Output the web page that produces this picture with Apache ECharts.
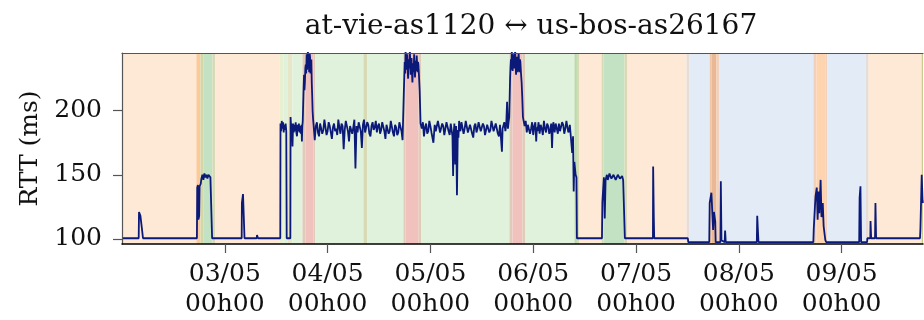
<!DOCTYPE html>
<html><head><meta charset="utf-8">
<script src="https://cdn.jsdelivr.net/npm/echarts@6/dist/echarts.min.js"></script>
<style>html,body{margin:0;padding:0;background:#fff}#c{width:924px;height:320px}</style>
</head><body><div id="c"></div>
<script>
// ---------------- DATA ----------------
const chartTitle = 'at-vie-as1120 \u2194 us-bos-as26167';
const yAxisName = 'RTT (ms)';
const yTickValues = [100, 150, 200];
// x in hours since 02/05 00h00
const xTickHours = [24, 48, 72, 96, 120, 144, 168];
const xTickLabels = ['03/05\n00h00', '04/05\n00h00', '05/05\n00h00', '06/05\n00h00', '07/05\n00h00', '08/05\n00h00', '09/05\n00h00'];

// [hour, RTT ms]
const rttPoints = [
  [0,100.5],[3.9,100.5],[3.97,121],[4.3,118],[4.58,117],[4.65,108],[4.83,107],[4.9,100.5],[6.98,100.5],[7.05,102],[7.15,100.5],
  [17.49,100.5],[17.56,140],[17.72,142],[17.84,115],[18.02,118],[18.12,141],[18.38,143],[18.54,147],[18.77,150],[19.0,146],[19.24,151],[19.47,148],[19.71,150],[19.94,147],[20.17,150],[20.41,149],[20.64,148],[20.87,147],[21.04,100.5],
  [27.94,100.5],[27.99,128],[28.2,128],[28.25,135],[28.53,134],[28.6,100.5],
  [30.63,100.5],[30.68,101.5],[30.8,100.5],[31.45,100.5],[31.52,103],[31.68,103],[31.75,100.5],
  [36.95,100.5],[37.0,190],[37.15,184],[37.3,192],[37.45,186],[37.6,191],[37.75,183],[37.9,189],[38.05,185],[38.2,190],[38.35,184],[38.45,100.5],
  [39.3,100.5],[39.35,195],[39.5,186],[39.65,190],[39.8,172],[39.95,190],[40.1,183],[40.25,189],[40.4,184],[40.55,191],[40.7,183],[40.85,180],[41.0,189],[41.15,184],[41.3,190],[41.45,183],[41.6,188],[41.75,182],[41.9,189],[42.0,176],[42.1,188],[42.2,192],
  [42.3,205],[42.4,218],[42.5,228],[42.6,216],[42.7,222],[42.8,233],[42.9,236],[43.0,229],[43.1,244],[43.2,232],[43.3,238],[43.4,247],[43.5,247],[43.6,236],[43.7,230],[43.8,245],[43.9,242],[44.0,229],[44.1,236],[44.2,240],[44.3,222],[44.4,212],[44.5,200],[44.6,194],[44.7,190],
  [45.0,177],[45.25,188],[45.5,191],[45.75,183],[46.0,180],[46.25,190],[46.5,189],[46.75,182],[47.0,185],[47.25,193],[47.5,192],[47.75,181],[48.0,184],[48.25,191],[48.5,188],[48.75,183],[49.0,178],[49.25,187],[49.5,190],[49.75,184],[50.0,186],[50.25,181],[50.5,193],[50.75,187],[51.0,182],[51.25,190],[51.5,188],[51.75,170],[52.0,185],[52.25,192],[52.5,191],[52.75,184],[53.0,176],[53.25,188],[53.5,189],[53.75,182],[54.0,187],[54.25,193],[54.5,155],[54.75,188],[55.0,183],[55.25,191],[55.5,190],[55.75,184],[56.0,171],[56.25,189],[56.5,193],[56.75,183],[57.0,184],[57.25,191],[57.5,189],[57.75,182],[58.0,180],[58.25,188],[58.5,191],[58.75,185],[59.0,187],[59.25,192],[59.5,183],[59.75,188],[60.0,190],[60.25,182],[60.5,185],[60.75,191],[61.0,192],[61.25,184],[61.5,178],[61.75,189],[62.0,188],[62.25,182],[62.5,184],[62.75,192],[63.0,191],[63.25,183],[63.5,180],[63.75,189],[64.0,187],[64.25,181],[64.5,183],[64.75,191],[65.0,190],[65.25,184],[65.5,177],
  [65.8,215],[66.0,238],[66.1,229],[66.2,247],[66.3,240],[66.4,232],[66.5,238],[66.6,244],[66.7,230],[66.8,225],[66.9,236],[67.0,240],[67.1,233],[67.2,247],[67.3,239],[67.4,228],[67.5,235],[67.6,241],[67.7,229],[67.8,222],[67.9,231],[68.0,237],[68.1,230],[68.2,244],[68.3,236],[68.4,226],[68.5,233],[68.6,239],[68.7,231],[68.8,243],[68.9,236],[69.0,230],[69.1,238],[69.2,236],[69.35,226],[69.5,215],[69.7,190],
  [70.0,186],[70.25,191],[70.5,180],[70.75,187],[71.0,190],[71.25,182],[71.5,184],[71.75,192],[72.0,188],[72.25,183],[72.5,182],[72.7,175],[73.0,189],[73.25,184],[73.5,185],[73.75,192],[74.0,191],[74.25,183],[74.5,183],[74.75,190],[75.0,188],[75.25,181],[75.5,186],[75.75,191],[76.0,192],[76.25,184],[76.5,181],[76.75,190],[77.0,189],[77.15,180],[77.3,149],[77.45,183],[77.6,190],[77.8,158],[78.0,188],[78.2,134],[78.4,185],[78.55,179],[78.7,192],[78.85,186],[79.0,184],[79.25,191],[79.5,190],[79.75,182],[80.0,186],[80.25,192],[80.5,191],[80.75,183],[81.0,183],[81.25,189],[81.5,188],[81.75,182],[82.0,179],[82.25,188],[82.5,190],[82.75,183],[83.0,186],[83.25,191],[83.5,192],[83.75,184],[84.0,184],[84.25,190],[84.5,188],[84.75,181],[85.0,181],[85.25,189],[85.5,190],[85.75,183],[86.0,185],[86.25,192],[86.5,191],[86.75,184],[87.0,183],[87.25,190],[87.5,189],[87.75,182],[88.0,180],[88.25,189],[88.5,188],[88.7,168],[88.85,186],[89.0,187],[89.25,191],[89.5,184],[89.7,189],[89.9,207],[90.1,186],[90.25,191],[90.4,195],
  [90.6,225],[90.7,234],[90.8,240],[90.9,232],[91.0,247],[91.1,238],[91.2,231],[91.3,240],[91.4,244],[91.5,233],[91.6,236],[91.7,243],[91.8,247],[91.9,234],[92.0,228],[92.1,237],[92.2,242],[92.3,230],[92.4,233],[92.5,240],[92.6,245],[92.7,236],[92.8,230],[92.9,240],[93.0,238],[93.15,229],[93.3,222],[93.45,210],[93.6,195],
  [94.0,188],[94.25,192],[94.5,183],[94.75,189],[95.0,190],[95.25,182],[95.5,186],[95.75,191],[96.0,181],[96.25,188],[96.5,191],[96.7,176],[96.85,187],[97.0,184],[97.25,191],[97.5,182],[97.75,189],[98.0,186],[98.25,181],[98.5,192],[98.75,186],[99.0,183],[99.25,190],[99.5,188],[99.75,182],[100.0,185],[100.2,190],[100.4,171],[100.55,186],[100.7,191],[101.0,183],[101.25,190],[101.5,189],[101.75,182],[102.0,190],[102.25,184],[102.5,184],[102.75,191],[103.0,189],[103.25,182],[103.5,186],[103.75,192],[104.0,191],[104.2,183],[104.4,185],[104.55,189],[104.7,183],
  [105.1,167],[105.3,180],[105.45,137],[105.6,160],[105.9,150],[106.1,148],[106.2,100.5],
  [112.05,100.5],[112.15,129],[112.35,140],[112.5,148],[112.7,116],[112.9,146],[113.2,150],[113.4,146],[113.6,147],[113.8,151],[114.0,150],[114.25,147],[114.5,148],[114.75,150],[115.0,149],[115.25,146],[115.5,147],[115.75,150],[116.0,150],[116.25,147],[116.5,148],[116.75,149],[117.0,146],[117.3,145],[117.4,100.5],
  [123.95,100.5],[124.0,156.5],[124.15,117],[124.25,100.5],[132.1,100.5],[132.2,97.4],
  [137.1,97.4],[137.2,128],[137.6,136],[138.0,107],[138.2,121],[138.5,113.5],[138.6,97.4],[139.7,97.4],[139.8,145],[139.95,99],[140.7,97.4],[140.8,106.5],[140.95,97.4],
  [148.2,97.4],[148.3,118],[148.45,107],[148.6,97.4],
  [161.4,97.4],[161.5,108],[161.9,133],[162.2,140],[162.4,115],[162.6,137],[162.8,120],[163.1,146],[163.3,117],[163.6,128],[163.8,110],[164.2,99],[164.4,97.4],
  [172.1,97.4],[172.2,132],[172.4,141],[172.55,97.4],[173.95,97.4],[174.0,100.5],[174.7,100.5],[174.75,114],[174.9,100.5],[175.8,100.5],[175.9,128],[176.05,100.5],[177.25,100.5],[177.3,101.5],[177.4,100.5],[178.35,100.5],[178.4,101.5],[178.5,100.5],
  [186.3,100.5],[186.4,108],[186.7,150],[186.9,130],[187,128]
];

// background state bands: edges in hours, one kind per interval
const bandEdges = [0,17.37,18.3,19.07,21.1,21.8,36.75,37.68,38.62,39.78,42.12,42.82,44.69,45.15,56.36,57.29,65.7,66.17,69.2,69.9,90.45,91.15,93.49,94.19,105.63,106.2,106.8,111.94,112.4,117.3,118.0,131.8,132.5,137.2,137.6,138.8,139.5,161.4,162.1,164.2,164.7,173.6,174.3,186.7,187];
const bandKind = ['peach','orange','olive','green','tan','peach','pale','lightGreen','tanLight','lightGreen','tanRed','red','tanRed','lightGreen','tan','lightGreen','tanRed','red','tanRed','lightGreen','tanRed','red','tanRed','lightGreen','midGreen','tan','peach','tan','green','tan','peach','gray','blue','orangeTan','orangeDark','orangePale','blue','orangePale','orange2','orangePale','blue','gray','peach','olive2'];

// ---------------- STYLE ----------------
const kindColor = {
  peach:'#fde9d6', orange:'#fcca98', olive:'#d3d7a8', green:'#c3e2c3', tan:'#d8dab6',
  pale:'#e8f0d0', lightGreen:'#e0f2dc', tanLight:'#e8e6c8', tanRed:'#e0cbb8', red:'#f1c1be',
  midGreen:'#b9daa9', gray:'#e7ddd6', blue:'#e3ecf6', orangeTan:'#efc5a6', orangeDark:'#e9b995',
  orangePale:'#f1d1bb', orange2:'#fdd4af', olive2:'#c9cc8c'
};
const FONT = 'DejaVu Serif';
const Y_MIN = 96, Y_MAX = 245, X_MIN = 0, X_MAX = 187;

const bandData = bandKind.map((k, i) => [bandEdges[i], bandEdges[i + 1]]);

const chart = echarts.init(document.getElementById('c'), null, {renderer: 'canvas'});
chart.setOption({
  animation: false,
  backgroundColor: '#fff',
  graphic: [{
    type: 'text', x: 531, y: 27, z: 10,
    style: {text: chartTitle, font: '28px "' + FONT + '"', fill: '#111', align: 'center', verticalAlign: 'middle'}
  }],
  grid: {left: 122, right: 1, top: 53, bottom: 76},
  xAxis: [{
    type: 'value', min: X_MIN, max: X_MAX, z: 10,
    axisLine: {lineStyle: {color: '#000', width: 1.5}},
    axisTick: {customValues: xTickHours, length: 9, lineStyle: {color: '#555', width: 1.2}},
    axisLabel: {customValues: xTickHours, formatter: v => { const i = xTickHours.indexOf(v); return i >= 0 ? xTickLabels[i] : ''; },
      fontFamily: FONT, fontSize: 25, color: '#111', lineHeight: 30, margin: 15},
    splitLine: {show: false}
  }, {
    type: 'value', position: 'top', min: X_MIN, max: X_MAX, z: 10,
    axisLine: {lineStyle: {color: '#555', width: 1.2}},
    axisTick: {show: false}, axisLabel: {show: false}, splitLine: {show: false}
  }],
  yAxis: {
    type: 'value', min: Y_MIN, max: Y_MAX, z: 10,
    name: yAxisName, nameLocation: 'middle', nameGap: 78,
    nameTextStyle: {fontFamily: FONT, fontSize: 25, color: '#111'},
    axisLine: {show: true, lineStyle: {color: '#555', width: 1.2}},
    axisTick: {customValues: yTickValues, length: 9, lineStyle: {color: '#555', width: 1.2}},
    axisLabel: {customValues: yTickValues, fontFamily: FONT, fontSize: 25, color: '#111', margin: 20},
    splitLine: {show: false}
  },
  series: [{
    type: 'custom', z: 1, silent: true,
    encode: {x: [0, 1]},
    data: bandData,
    renderItem: (params, api) => {
      const p0 = api.coord([api.value(0), Y_MAX]);
      const p1 = api.coord([api.value(1), Y_MIN]);
      return {type: 'rect', shape: {x: p0[0], y: p0[1], width: p1[0] - p0[0], height: p1[1] - p0[1]},
        style: {fill: kindColor[bandKind[params.dataIndex]]}};
    }
  }, {
    type: 'line', z: 3, data: rttPoints, showSymbol: false, clip: true,
    lineStyle: {color: '#0b1a78', width: 1.8}
  }]
});
</script></body></html>
